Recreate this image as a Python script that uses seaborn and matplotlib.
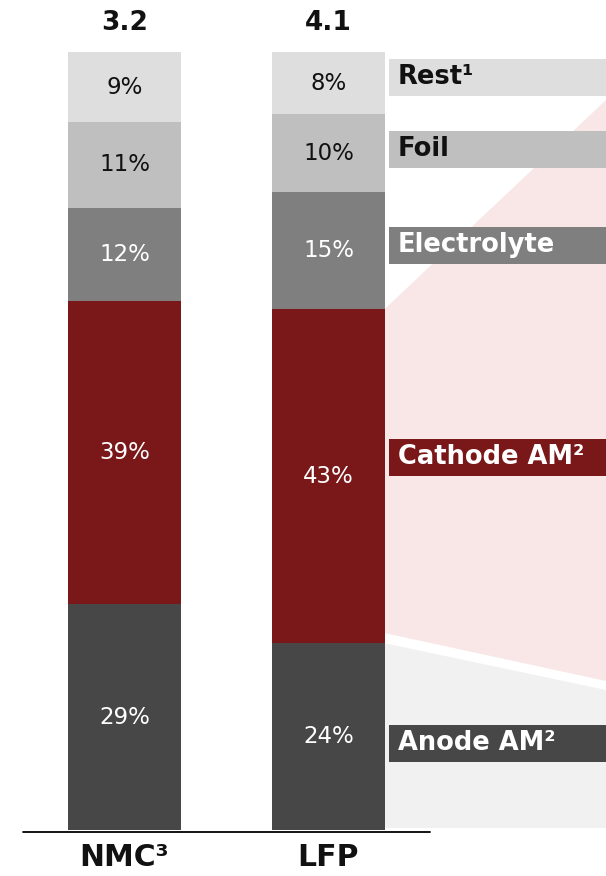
import matplotlib
matplotlib.use("Agg")
import matplotlib.pyplot as plt
from matplotlib.patches import Polygon, Rectangle
import seaborn as sns
import pandas as pd
import numpy as np

# ---- data ----
chemistries = ["NMC³", "LFP"]
totals = ["3.2", "4.1"]
components = ["Anode AM²", "Cathode AM²", "Electrolyte", "Foil", "Rest¹"]
nmc_share = [29, 39, 12, 11, 9]
lfp_share = [24, 43, 15, 10, 8]
colors = ["#474747", "#7A1719", "#7F7F7F", "#BFBFBF", "#DEDEDE"]
pct_text_colors = ["white", "white", "white", "#111111", "#111111"]
label_text_colors = ["white", "white", "white", "#111111", "#111111"]

sns.set_theme(style="white")
plt.rcParams["font.family"] = ["DejaVu Sans"]

W, H = 606, 876
fig = plt.figure(figsize=(W / 100, H / 100), dpi=100)
ax = fig.add_axes([0, 0, 1, 1])

# pixel <-> data helpers (layout only)
X0, XS = 124.5, 204.0          # px of category 0, px per category
Y0, YS = 830.0, 7.78           # px of value 0, px per percent
def dx(px): return (px - X0) / XS
def dy(py): return (Y0 - py) / YS

shares = np.array([nmc_share, lfp_share], dtype=float)  # rows: chemistry
cum = np.cumsum(shares, axis=1)

# background decoration linked to LFP segments
lfp_cath_top = cum[1, 1]
lfp_anode_top = cum[1, 0]
bar_w = 113 / XS
xr = 1 + bar_w / 2
pink = Polygon([(xr, lfp_cath_top), (dx(606), dy(100)), (dx(606), dy(681)),
                (xr, lfp_anode_top + 1.3)], closed=True, facecolor="#F9E7E7",
               edgecolor="none", zorder=0)
grey = Polygon([(xr, lfp_anode_top), (dx(606), dy(690)), (dx(606), dy(828)),
                (xr, dy(828))], closed=True, facecolor="#F1F1F1",
               edgecolor="none", zorder=0)
ax.add_patch(pink)
ax.add_patch(grey)

# stacked bars: draw cumulative totals from top down
for k in range(len(components) - 1, -1, -1):
    df = pd.DataFrame({"chem": chemistries, "val": cum[:, k]})
    sns.barplot(data=df, x="chem", y="val", color=colors[k], saturation=1,
                width=bar_w, linewidth=0, ax=ax, zorder=2)

# percentage labels
for i in range(len(chemistries)):
    for k in range(len(components)):
        mid = cum[i, k] - shares[i, k] / 2
        ax.text(i, mid, f"{int(shares[i, k])}%", ha="center", va="center",
                fontsize=16.5, color=pct_text_colors[k], zorder=5)
    ax.text(i, dy(23), totals[i], ha="center", va="center",
            fontsize=19, fontweight="bold", color="#111111", zorder=5)

# category labels
for i, c in enumerate(chemistries):
    ax.text(i, dy(857), c, ha="center", va="center", fontsize=21.5,
            fontweight="bold", color="#111111", zorder=5)

# baseline
ax.plot([dx(23), dx(430)], [dy(832), dy(832)], color="black", lw=1.3, zorder=4)

# component labels on the right
label_y_px = [743, 457, 245.5, 149.5, 77.5]
box_h = 37 / YS
for k, comp in enumerate(components):
    yc = dy(label_y_px[k])
    ax.add_patch(Rectangle((dx(389), yc - box_h / 2), dx(606) - dx(389), box_h,
                           facecolor=colors[k], edgecolor="none", zorder=3))
    ax.text(dx(398), yc, comp, ha="left", va="center", fontsize=18.5,
            fontweight="bold", color=label_text_colors[k], zorder=5)

ax.set_xlim(dx(0), dx(W))
ax.set_ylim(dy(H), dy(0))
ax.axis("off")
fig.savefig("out.png", dpi=100)
